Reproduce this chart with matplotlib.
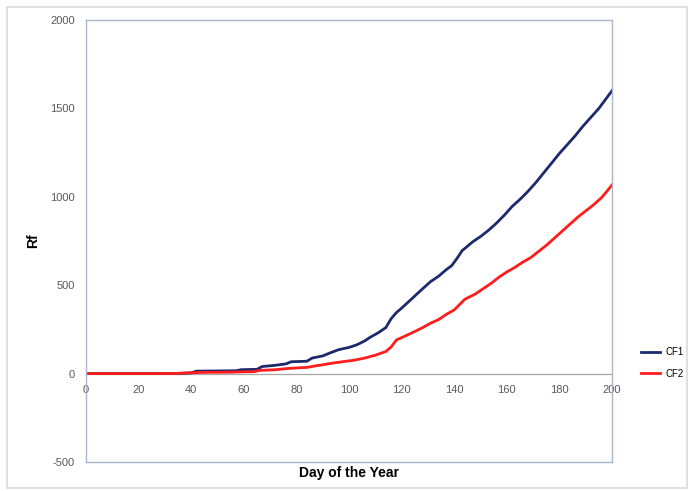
import matplotlib
matplotlib.use("Agg")
import matplotlib.pyplot as plt
from matplotlib.patches import Rectangle

plt.rcParams['font.family'] = ['Liberation Sans', 'DejaVu Sans']
plt.rcParams['axes.unicode_minus'] = False

# cumulative Rf
cf1_days = [0, 30, 35, 40, 42, 50, 57, 59, 65, 67, 72, 76, 78, 84, 86, 90, 93, 96,
            100, 103, 106, 108, 111, 114, 116, 118, 120, 124, 128, 131, 134, 137,
            139, 141, 143, 145, 147, 150, 153, 156, 159, 162, 165, 168, 171, 174,
            177, 180, 183, 186, 189, 192, 195, 198, 200]
cf1_vals = [0, 0, 1, 4, 14, 15, 16, 22, 24, 40, 47, 55, 67, 70, 88, 100, 118, 135,
            148, 163, 185, 205, 230, 260, 310, 345, 370, 425, 480, 520, 550, 588,
            610, 650, 695, 720, 745, 775, 810, 850, 895, 945, 985, 1030, 1080, 1135,
            1190, 1245, 1295, 1345, 1400, 1450, 1500, 1560, 1600]

cf2_days = [0, 32, 36, 40, 45, 55, 60, 64, 66, 72, 76, 80, 84, 87, 90, 94, 98, 102,
            106, 110, 114, 116, 118, 121, 125, 128, 131, 134, 137, 140, 142, 144,
            146, 148, 151, 154, 157, 160, 163, 166, 169, 172, 175, 178, 181, 184,
            187, 190, 193, 196, 198, 200]
cf2_vals = [0, 0, 2, 5, 7, 8, 10, 11, 18, 22, 28, 32, 35, 43, 50, 60, 68, 76,
            88, 104, 125, 150, 190, 210, 238, 260, 285, 305, 335, 360, 390, 420,
            435, 450, 480, 510, 545, 575, 600, 630, 655, 690, 725, 765, 805, 845,
            885, 920, 955, 995, 1030, 1067]

x_ticks = list(range(0, 201, 20))
y_ticks = [-500, 0, 500, 1000, 1500, 2000]

fig = plt.figure(figsize=(6.88, 4.91), dpi=100)
fig.patches.append(Rectangle((7 / 688, 3 / 491), 680 / 688, 481 / 491,
                             transform=fig.transFigure, fill=False,
                             edgecolor='#d9d9d9', linewidth=1.2))

ax = fig.add_axes([86 / 688, 29 / 491, 526 / 688, 442 / 491])
line1, = ax.plot(cf1_days, cf1_vals, color='#1c2a6c', lw=2.0, label='CF1')
line2, = ax.plot(cf2_days, cf2_vals, color='#ff1c1c', lw=2.0, label='CF2')
ax.axhline(0, color='#a6a6a6', lw=0.9, zorder=1)

ax.set_xlim(0, 200)
ax.set_ylim(-500, 2000)
ax.set_yticks(y_ticks)
ax.tick_params(axis='y', length=0, labelsize=8, labelcolor='#595959', pad=8)
ax.set_xticks([])
for sp in ax.spines.values():
    sp.set_color('#a9b6cc')
    sp.set_linewidth(1.0)

# x labels sit on the zero line
sec = ax.secondary_xaxis(0.2)
sec.set_xticks(x_ticks)
sec.tick_params(length=0, labelsize=8, labelcolor='#595959', pad=8)
sec.spines['bottom'].set_visible(False)

ax.set_ylabel('Rf', fontsize=10, fontweight='bold', labelpad=7)
ax.set_xlabel('Day of the Year', fontsize=10, fontweight='bold', labelpad=3)

fig.legend(handles=[line1, line2], loc='center left',
           bbox_to_anchor=(632 / 688, 1 - 363 / 491), frameon=False,
           fontsize=7, handlelength=2.0, labelspacing=1.2, handletextpad=0.5)

fig.savefig('out.png', dpi=100)
